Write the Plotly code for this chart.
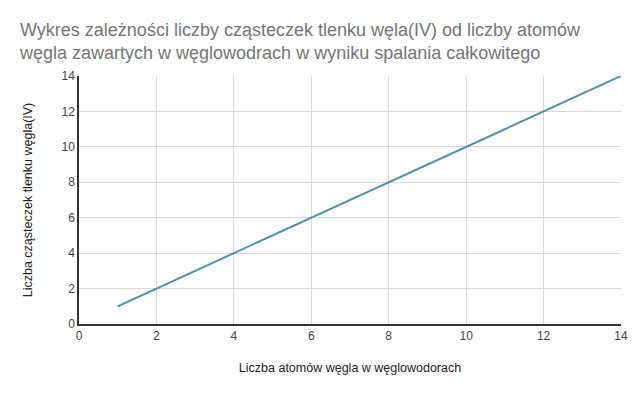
import plotly.graph_objects as go

atoms = [1, 2, 3, 4, 5, 6, 7, 8, 9, 10, 11, 12, 13, 14]
co2 = [1, 2, 3, 4, 5, 6, 7, 8, 9, 10, 11, 12, 13, 14]
x_ticks = [0, 2, 4, 6, 8, 10, 12, 14]
y_ticks = [0, 2, 4, 6, 8, 10, 12, 14]

fig = go.Figure()
fig.add_trace(go.Scatter(x=atoms, y=co2, mode="lines",
                         line=dict(color="#5090b0", width=2)))

font_family = "Liberation Sans, Arial, sans-serif"
fig.update_layout(
    width=640, height=396,
    margin=dict(l=71, r=27, t=68, b=80),
    paper_bgcolor="white", plot_bgcolor="white",
    showlegend=False,
    font=dict(family=font_family, color="#444444", size=12),
    title=dict(
        text="Wykres zależności liczby cząsteczek tlenku węla(IV) od liczby atomów<br>węgla zawartych w węglowodrach w wyniku spalania całkowitego",
        xref="container", yref="container", x=12 / 640, y=1 - 28 / 396,
        xanchor="left", yanchor="top",
        font=dict(family=font_family, size=18, color="#757575"),
    ),
)
fig.update_xaxes(
    range=[0, 14], tickvals=x_ticks, showgrid=True, gridcolor="#d9d9d9",
    showline=True, linecolor="#333333", linewidth=1.5, zeroline=False,
    ticks="", tickfont=dict(size=12, color="#444444"),
    title=dict(text="Liczba atomów węgla w węglowodorach", standoff=21,
               font=dict(size=12.5, color="#222222")),
)
fig.update_yaxes(
    range=[0, 14], tickvals=y_ticks, showgrid=True, gridcolor="#d9d9d9",
    showline=True, linecolor="#333333", linewidth=1.5, zeroline=False,
    ticks="", tickfont=dict(size=12, color="#444444"),
    title=dict(text="Liczba cząsteczek tlenku węgla(IV)", standoff=26,
               font=dict(size=12.5, color="#222222")),
)
fig.write_html("out.html")
